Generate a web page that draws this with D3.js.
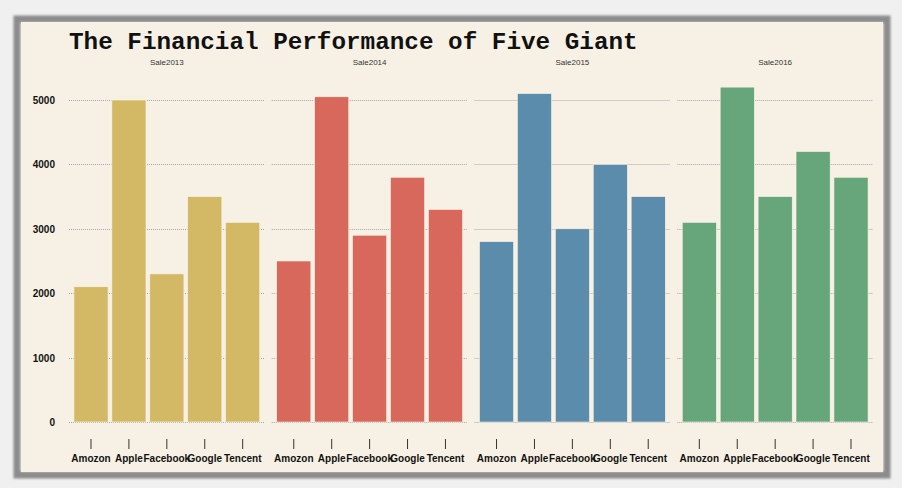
<!DOCTYPE html>
<html><head><meta charset="utf-8">
<script src="https://cdn.jsdelivr.net/npm/d3@7/dist/d3.min.js"></script>
<style>
html,body{margin:0;padding:0;background:#f0f0f0;}
svg{display:block;}
</style></head>
<body>
<svg id="chart" width="902" height="488"></svg>
<script>
const title = "The Financial Performance of Five Giant";
const companies = ["Amozon", "Apple", "Facebook", "Google", "Tencent"];
const years = ["Sale2013", "Sale2014", "Sale2015", "Sale2016"];
const sale2013 = [2100, 5000, 2300, 3500, 3100];
const sale2014 = [2500, 5050, 2900, 3800, 3300];
const sale2015 = [2800, 5100, 3000, 4000, 3500];
const sale2016 = [3100, 5200, 3500, 4200, 3800];
const yTicks = [0, 1000, 2000, 3000, 4000, 5000];
const colors = ["#d3b966", "#d8685c", "#5b8cab", "#66a67a"];

const series = [sale2013, sale2014, sale2015, sale2016];
const svg = d3.select("#chart");

const defs = svg.append("defs");
const f = defs.append("filter").attr("id","blur").attr("x","-5%").attr("y","-5%").attr("width","110%").attr("height","110%");
f.append("feGaussianBlur").attr("stdDeviation", 1.2);

// frame
svg.append("rect").attr("x", 17).attr("y", 19).attr("width", 870).attr("height", 456)
  .attr("fill", "none").attr("stroke", "#8c8c8c").attr("stroke-width", 7).attr("filter","url(#blur)");
svg.append("rect").attr("x", 21).attr("y", 22).attr("width", 862).attr("height", 450)
  .attr("fill", "#f7f1e5");

svg.append("text").attr("x", 69).attr("y", 49)
  .attr("font-family", "'Liberation Mono','Courier New',monospace")
  .attr("font-weight", "bold").attr("font-size", 24.3).attr("fill", "#111")
  .text(title);

const facetX = d3.scaleBand().domain(years).range([69, 873]).paddingInner(0.035).paddingOuter(0);
const y = d3.scaleLinear().domain([0, 5000]).range([422, 100]);

// y axis labels
const yAxis = d3.axisLeft(y).tickValues(yTicks).tickSize(0).tickPadding(0).tickFormat(d3.format("d"));
const ya = svg.append("g").attr("transform", "translate(55,0)").call(yAxis);
ya.select(".domain").remove();
ya.selectAll("text").attr("font-family", "Arial, 'Liberation Sans', sans-serif")
  .attr("font-weight", "bold").attr("font-size", 10).attr("fill", "#111").attr("dy", "0.35em");

years.forEach((yr, i) => {
  const x0 = facetX(yr);
  const w = facetX.bandwidth();
  const g = svg.append("g");
  const x = d3.scaleBand().domain(companies).range([x0, x0 + w]).paddingInner(0.1).paddingOuter(0.13);

  // gridlines
  g.selectAll("line.grid").data(yTicks).join("line")
    .attr("x1", x0).attr("x2", x0 + w)
    .attr("y1", d => Math.round(y(d)) + 0.5).attr("y2", d => Math.round(y(d)) + 0.5)
    .attr("stroke", "#a8a8a8").attr("stroke-width", 1).attr("stroke-dasharray", "1,1");

  // facet label
  g.append("text").attr("x", x0 + w / 2).attr("y", 65).attr("text-anchor", "middle")
    .attr("font-family", "Arial, 'Liberation Sans', sans-serif").attr("font-size", 8).attr("fill", "#333")
    .text(yr);

  // bars
  g.selectAll("rect.bar").data(series[i]).join("rect")
    .attr("x", (d, j) => x(companies[j])).attr("width", x.bandwidth())
    .attr("y", d => y(d)).attr("height", d => y(0) - y(d))
    .attr("fill", colors[i]).attr("stroke", "#fbf3e6").attr("stroke-width", 0.6);

  // x axis
  const xAxis = d3.axisBottom(x).tickSize(10).tickPadding(6);
  const xa = g.append("g").attr("transform", "translate(0,439)").call(xAxis);
  xa.select(".domain").remove();
  xa.selectAll(".tick line").attr("stroke", "#333");
  xa.selectAll("text").attr("font-family", "Arial, 'Liberation Sans', sans-serif")
    .attr("font-weight", "bold").attr("font-size", 10).attr("fill", "#111");
});
</script>
</body></html>
